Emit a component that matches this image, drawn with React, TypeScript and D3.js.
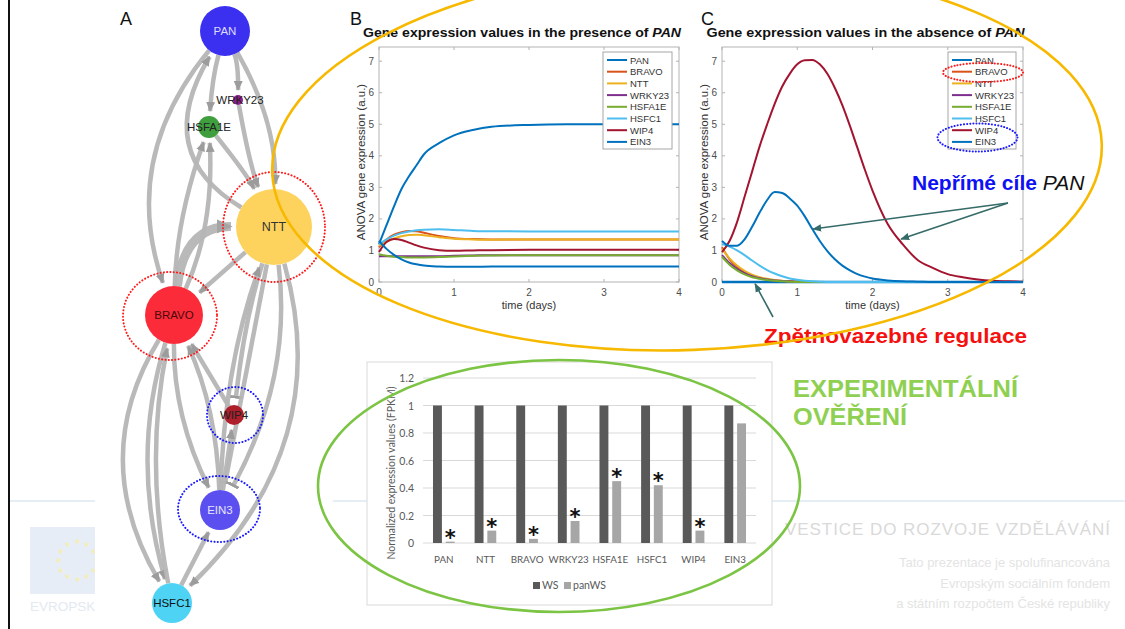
import React from 'react';
import * as d3 from 'd3';

const W = 1125;
const H = 629;

// ---------- Panels B and C: simulated expression ----------
const seriesNames = ['PAN', 'BRAVO', 'NTT', 'WRKY23', 'HSFA1E', 'HSFC1', 'WIP4', 'EIN3'];
const seriesColors = ['#0072BD', '#D95319', '#EDB120', '#7E2F8E', '#77AC30', '#4DBEEE', '#A2142F', '#0072BD'];
const axisTicksY = [0, 1, 2, 3, 4, 5, 6, 7];
const axisTicksX = [0, 1, 2, 3, 4];

const timeB = [0, 0.1, 0.2, 0.3, 0.4, 0.5, 0.6, 0.8, 1.0, 1.25, 1.5, 2, 2.5, 3, 3.5, 4];
const panB = [1.2, 1.8, 2.4, 2.95, 3.35, 3.7, 4.05, 4.4, 4.65, 4.82, 4.92, 4.98, 5.0, 5.0, 5.0, 5.0];
const bravoB = [1.1, 1.35, 1.5, 1.58, 1.62, 1.61, 1.56, 1.46, 1.39, 1.36, 1.35, 1.35, 1.35, 1.35, 1.35, 1.35];
const nttB = [1.15, 1.28, 1.38, 1.45, 1.49, 1.5, 1.48, 1.42, 1.37, 1.35, 1.34, 1.35, 1.35, 1.35, 1.35, 1.35];
const wrky23B = [0.82, 0.82, 0.82, 0.82, 0.82, 0.82, 0.82, 0.82, 0.83, 0.84, 0.85, 0.85, 0.85, 0.85, 0.85, 0.85];
const hsfa1eB = [0.88, 0.83, 0.8, 0.79, 0.78, 0.78, 0.78, 0.79, 0.81, 0.83, 0.84, 0.85, 0.85, 0.85, 0.85, 0.85];
const hsfc1B = [1.2, 1.35, 1.47, 1.55, 1.6, 1.64, 1.66, 1.67, 1.65, 1.62, 1.61, 1.6, 1.6, 1.6, 1.6, 1.6];
const wip4B = [0.95, 1.27, 1.36, 1.33, 1.25, 1.16, 1.09, 1.01, 0.99, 1.0, 1.01, 1.02, 1.02, 1.02, 1.02, 1.02];
const ein3B = [1.3, 1.05, 0.86, 0.72, 0.62, 0.56, 0.52, 0.49, 0.48, 0.48, 0.49, 0.49, 0.49, 0.49, 0.49, 0.49];

const timeC = [0, 0.1, 0.2, 0.3, 0.4, 0.5, 0.6, 0.7, 0.8, 0.9, 1.0, 1.1, 1.2, 1.3, 1.4, 1.5, 1.6, 1.7, 1.8, 1.9, 2.0,
  2.2, 2.4, 2.6, 2.8, 3.0, 3.2, 3.4, 3.6, 3.8, 4.0];
const panC = [0, 0, 0, 0, 0, 0, 0, 0, 0, 0, 0, 0, 0, 0, 0, 0, 0, 0, 0, 0, 0, 0, 0, 0, 0, 0, 0, 0, 0, 0, 0];
const bravoC = [1.1, 0.72, 0.48, 0.31, 0.2, 0.13, 0.08, 0.05, 0.03, 0.02, 0.01, 0, 0, 0, 0, 0, 0, 0, 0, 0, 0, 0, 0, 0, 0, 0, 0, 0, 0, 0, 0];
const nttC = [1.05, 0.75, 0.52, 0.35, 0.23, 0.15, 0.1, 0.06, 0.04, 0.02, 0.01, 0, 0, 0, 0, 0, 0, 0, 0, 0, 0, 0, 0, 0, 0, 0, 0, 0, 0, 0, 0];
const wrky23C = [0.85, 0.6, 0.42, 0.28, 0.18, 0.12, 0.08, 0.05, 0.03, 0.02, 0.01, 0, 0, 0, 0, 0, 0, 0, 0, 0, 0, 0, 0, 0, 0, 0, 0, 0, 0, 0, 0];
const hsfa1eC = [0.8, 0.55, 0.37, 0.24, 0.15, 0.1, 0.06, 0.04, 0.02, 0.01, 0, 0, 0, 0, 0, 0, 0, 0, 0, 0, 0, 0, 0, 0, 0, 0, 0, 0, 0, 0, 0];
const hsfc1C = [1.2, 1.12, 1.0, 0.85, 0.68, 0.52, 0.38, 0.27, 0.18, 0.11, 0.07, 0.04, 0.02, 0.01, 0, 0, 0, 0, 0, 0, 0, 0, 0, 0, 0, 0, 0, 0, 0, 0, 0];
const wip4C = [0.95, 1.3, 1.9, 2.7, 3.5, 4.3, 5.0, 5.65, 6.2, 6.6, 6.9, 7.03, 7.04, 6.9, 6.6, 6.15, 5.6, 4.95, 4.25, 3.55, 2.9,
  1.85, 1.2, 0.7, 0.45, 0.25, 0.15, 0.08, 0.04, 0.02, 0.01];
const ein3C = [1.3, 1.15, 1.15, 1.35, 1.75, 2.2, 2.6, 2.85, 2.82, 2.65, 2.42, 2.08, 1.68, 1.3, 0.98, 0.72, 0.52, 0.37, 0.25, 0.17, 0.11,
  0.05, 0.02, 0.01, 0, 0, 0, 0, 0, 0, 0];

const dataB = [panB, bravoB, nttB, wrky23B, hsfa1eB, hsfc1B, wip4B, ein3B];
const dataC = [panC, bravoC, nttC, wrky23C, hsfa1eC, hsfc1C, wip4C, ein3C];

// ---------- Bar chart: experimental validation ----------
const barCats = ['PAN', 'NTT', 'BRAVO', 'WRKY23', 'HSFA1E', 'HSFC1', 'WIP4', 'EIN3'];
const barSeries = ['WS', 'panWS'];
const wsValues = [1, 1, 1, 1, 1, 1, 1, 1];
const panWsValues = [0.01, 0.09, 0.03, 0.16, 0.45, 0.42, 0.09, 0.87];
const significant = [true, true, true, true, true, true, true, false];
const barTicks = [0, 0.2, 0.4, 0.6, 0.8, 1, 1.2];
const barColors = ['#595959', '#a6a6a6'];

// ---------- Panel A: regulatory network ----------
const netNodes = ['PAN', 'WRKY23', 'HSFA1E', 'NTT', 'BRAVO', 'WIP4', 'EIN3', 'HSFC1'];
const netLayoutX = [225, 238, 209, 274, 174, 234, 220, 172];
const netLayoutY = [31, 100, 127, 227, 315, 415, 510, 603];
const netRadius = [25, 5, 11, 38, 29, 10, 20, 20];
const netFill = ['#3b2ff0', '#8e1d8e', '#3f9f3f', '#fdd35e', '#fb2b3a', '#ad1f2b', '#5b50ef', '#4fd3f5'];
const netText = ['#dcdcff', '#222', '#222', '#333', '#4a0a0a', '#222', '#e4e4ff', '#111'];
const netEdges: [string, string, number, string][] = [
  ['PAN', 'BRAVO', 0.28, 'arrow'],
  ['NTT', 'PAN', -0.5, 'arrow'],
  ['PAN', 'WRKY23', -0.1, 'arrow'],
  ['PAN', 'HSFA1E', 0.05, 'arrow'],
  ['PAN', 'NTT', -0.14, 'arrow'],
  ['WRKY23', 'NTT', 0.05, 'arrow'],
  ['HSFA1E', 'NTT', -0.05, 'arrow'],
  ['BRAVO', 'HSFA1E', -0.08, 'arrow'],
  ['BRAVO', 'HSFA1E', 0.12, 'arrow'],
  ['BRAVO', 'NTT', -0.45, 'thick'],
  ['NTT', 'BRAVO', 0.0, 'arrow'],
  ['NTT', 'WIP4', 0.05, 'inhibit'],
  ['NTT', 'EIN3', 0.0, 'inhibit'],
  ['NTT', 'EIN3', -0.16, 'inhibit'],
  ['EIN3', 'NTT', -0.08, 'arrow'],
  ['NTT', 'HSFC1', -0.3, 'arrow'],
  ['BRAVO', 'HSFC1', 0.3, 'arrow'],
  ['BRAVO', 'HSFC1', 0.15, 'arrow'],
  ['HSFC1', 'BRAVO', -0.1, 'arrow'],
  ['BRAVO', 'EIN3', 0.12, 'arrow'],
  ['EIN3', 'BRAVO', 0.1, 'arrow'],
  ['WIP4', 'BRAVO', 0, 'arrow'],
  ['EIN3', 'WIP4', 0, 'arrow'],
  ['HSFC1', 'EIN3', 0, 'arrow'],
];

const footerLines = ['Tato prezentace je spolufinancována', 'Evropským sociálním fondem', 'a státním rozpočtem České republiky'];

const SANS = "'Liberation Sans', Arial, Helvetica, sans-serif";
const BARFONT = "Lato, 'Open Sans', sans-serif";

const yExpr = d3.scaleLinear().domain([0, 7.45]).range([282, 47]);

function LinePanel(props: { x0: number; x1: number; time: number[]; data: number[][]; absent: boolean; legendX: number; legendW: number }) {
  const { x0, x1, time, data, absent, legendX, legendW } = props;
  const x = d3.scaleLinear().domain([0, 4]).range([x0, x1]);
  const y = yExpr;
  const line = d3.line<number>().x((_, i) => x(time[i])).y((d) => y(d)).curve(d3.curveMonotoneX);
  const top = y(7.45);
  const bottom = y(0);
  const boxColor = '#b3b3b3';
  return (
    <g fontFamily={SANS}>
      <rect x={x0} y={top} width={x1 - x0} height={bottom - top} fill="white" stroke={boxColor} strokeWidth={1} />
      {axisTicksY.map((t) => (
        <g key={'yt' + t}>
          <line x1={x0} x2={x0 + 3} y1={y(t)} y2={y(t)} stroke={boxColor} />
          <line x1={x1} x2={x1 - 3} y1={y(t)} y2={y(t)} stroke={boxColor} />
          <text x={x0 - 5} y={y(t) + 3.5} textAnchor="end" fontSize={10} fill="#4d4d4d">{t}</text>
        </g>
      ))}
      {axisTicksX.map((t) => (
        <g key={'xt' + t}>
          <line x1={x(t)} x2={x(t)} y1={bottom} y2={bottom - 3} stroke={boxColor} />
          <line x1={x(t)} x2={x(t)} y1={top} y2={top + 3} stroke={boxColor} />
          <text x={x(t)} y={bottom + 14} textAnchor="middle" fontSize={10} fill="#4d4d4d">{t}</text>
        </g>
      ))}
      <text x={(x0 + x1) / 2} y={309} textAnchor="middle" fontSize={11} fill="#333">time (days)</text>
      <text transform={`translate(${x0 - 14},${162}) rotate(-90)`} textAnchor="middle" fontSize={11.5} fill="#333">
        ANOVA gene expression (a.u.)
      </text>
      <text x={(x0 + x1) / 2 - 7} y={37} textAnchor="middle" fontSize={12.5} fontWeight="bold" fill="#111"
        textLength={318} lengthAdjust="spacingAndGlyphs">
        {absent ? 'Gene expression values in the absence of ' : 'Gene expression values in the presence of '}
        <tspan fontStyle="italic">PAN</tspan>
      </text>
      {data.map((s, i) => (
        <path key={'s' + i} d={line(s) || ''} fill="none" stroke={seriesColors[i]} strokeWidth={absent && i === 0 ? 2.6 : 2} />
      ))}
      <rect x={legendX} y={52} width={legendW} height={97} fill="white" stroke="#a6a6a6" strokeWidth={1} />
      {seriesNames.map((n, i) => (
        <g key={'lg' + n}>
          <line x1={legendX + 4} x2={legendX + 24} y1={60 + i * 11.7} y2={60 + i * 11.7} stroke={seriesColors[i]} strokeWidth={2} />
          <text x={legendX + 27} y={60 + i * 11.7 + 3.5} fontSize={9.5} fill="#333">{n}</text>
        </g>
      ))}
    </g>
  );
}

function BarPanel() {
  const x0 = d3.scaleBand<string>().domain(barCats).range([423, 756]).paddingInner(0.48).paddingOuter(0.24);
  const x1 = d3.scaleBand<string>().domain(barSeries).range([0, x0.bandwidth()]).paddingInner(0.3);
  const y = d3.scaleLinear().domain([0, 1.2]).range([543, 378]);
  const vals = [wsValues, panWsValues];
  return (
    <g fontFamily={BARFONT}>
      <rect x={367} y={362} width={405} height={243} fill="white" stroke="#d9d9d9" strokeWidth={1} />
      {barTicks.map((t) => (
        <g key={'bt' + t}>
          <line x1={423} x2={756} y1={y(t)} y2={y(t)} stroke="#d9d9d9" strokeWidth={1} />
          <text x={414} y={y(t) + 4} textAnchor="end" fontSize={10.5} fill="#595959">{t}</text>
        </g>
      ))}
      <text transform={`translate(${395},${473}) rotate(-90)`} textAnchor="middle" fontSize={10.5} fill="#595959">
        Normalized expression values (FPKM)
      </text>
      {barCats.map((c, ci) => (
        <g key={'bc' + c}>
          {barSeries.map((s, si) => (
            <rect key={s} x={(x0(c) || 0) + (x1(s) || 0)} y={y(vals[si][ci])} width={x1.bandwidth()}
              height={y(0) - y(vals[si][ci])} fill={barColors[si]} />
          ))}
          {significant[ci] && (
            <text x={(x0(c) || 0) + (x1('panWS') || 0) + x1.bandwidth() / 2} y={y(panWsValues[ci]) + 3}
              textAnchor="middle" fontSize={21} fontWeight="bold" fontFamily="'DejaVu Sans', sans-serif" fill="#111">*</text>
          )}
          <text x={(x0(c) || 0) + x0.bandwidth() / 2} y={563} textAnchor="middle" fontSize={9.8} fill="#595959">{c}</text>
        </g>
      ))}
      {barSeries.map((s, si) => (
        <g key={'bl' + s}>
          <rect x={533 + si * 31} y={582} width={7} height={7} fill={barColors[si]} />
          <text x={542 + si * 31} y={589} fontSize={10.5} fill="#595959">{s}</text>
        </g>
      ))}
    </g>
  );
}

function Network() {
  const idx = (id: string) => netNodes.indexOf(id);
  const sx = d3.scaleLinear().domain([0, 1]).range([0, 1]);
  const sy = d3.scaleLinear().domain([0, 1]).range([0, 1]);
  const nodes = netNodes.map((id, i) => ({ id, x: sx(netLayoutX[i]), y: sy(netLayoutY[i]), r: netRadius[i] }));
  return (
    <g>
      {netEdges.map((e, k) => {
        const s = nodes[idx(e[0])];
        const t = nodes[idx(e[1])];
        const dx = t.x - s.x, dy = t.y - s.y;
        const len = Math.hypot(dx, dy);
        const cx = (s.x + t.x) / 2 + e[2] * len * (-dy / len);
        const cy = (s.y + t.y) / 2 + e[2] * len * (dx / len);
        const u1 = Math.hypot(cx - s.x, cy - s.y);
        const u2 = Math.hypot(cx - t.x, cy - t.y);
        const sxp = s.x + (s.r * (cx - s.x)) / u1;
        const syp = s.y + (s.r * (cy - s.y)) / u1;
        const gap = t.r + (e[3] === 'inhibit' ? 8 : 5);
        const txp = t.x + (gap * (cx - t.x)) / u2;
        const typ = t.y + (gap * (cy - t.y)) / u2;
        const marker = e[3] === 'inhibit' ? 'url(#inh)' : e[3] === 'thick' ? 'url(#arrThick)' : 'url(#arr)';
        return (
          <path key={'e' + k} d={`M${sxp},${syp} Q${cx},${cy} ${txp},${typ}`} fill="none" stroke="#b5b5b5"
            strokeWidth={e[3] === 'thick' ? 9 : 4.5} strokeOpacity={0.95} markerEnd={marker} />
        );
      })}
      {nodes.map((n, i) => (
        <g key={'n' + n.id}>
          <circle cx={n.x} cy={n.y} r={n.r} fill={netFill[i]} />
          <text x={n.x + (n.id === 'WRKY23' ? 2 : 0)} y={n.y + 4} textAnchor="middle" fontFamily={SANS}
            fontSize={n.id === 'NTT' ? 12.5 : 11.5} fill={netText[i]}>{n.id}</text>
        </g>
      ))}
      <ellipse cx={274} cy={227} rx={51} ry={55} fill="none" stroke="#ff1a1a" strokeWidth={2} strokeDasharray="0.1 3.2" strokeLinecap="round" />
      <ellipse cx={170} cy={316} rx={47} ry={44} fill="none" stroke="#ff1a1a" strokeWidth={2} strokeDasharray="0.1 3.2" strokeLinecap="round" />
      <ellipse cx={235} cy={415} rx={28} ry={28} fill="none" stroke="#1a1aff" strokeWidth={2} strokeDasharray="0.1 3.2" strokeLinecap="round" />
      <ellipse cx={219} cy={509} rx={41} ry={33} fill="none" stroke="#1a1aff" strokeWidth={2} strokeDasharray="0.1 3.2" strokeLinecap="round" />
    </g>
  );
}

export default function App() {
  const xC = d3.scaleLinear().domain([0, 4]).range([722, 1023]);
  const tail: [number, number] = [1008, 203];
  const tip1: [number, number] = [xC(1.21), yExpr(1.68)];
  const tip2: [number, number] = [xC(2.38), yExpr(1.36)];
  const tip3: [number, number] = [xC(0.44), yExpr(-0.06)];
  const flagStars = d3.range(12).map((i) => [77 + 19 * Math.cos((i * Math.PI) / 6), 560 + 19 * Math.sin((i * Math.PI) / 6)]);
  return (
    <svg width={W} height={H} viewBox={`0 0 ${W} ${H}`} style={{ position: 'absolute', left: 0, top: 0, background: 'white' }}>
      <defs>
        <marker id="arr" viewBox="0 -5 10 10" refX={9} refY={0} markerWidth={10} markerHeight={10} markerUnits="userSpaceOnUse" orient="auto">
          <path d="M0,-4.5L10,0L0,4.5Z" fill="#9c9c9c" />
        </marker>
        <marker id="arrThick" viewBox="0 -5 10 10" refX={9} refY={0} markerWidth={16} markerHeight={16} markerUnits="userSpaceOnUse" orient="auto">
          <path d="M0,-4.5L10,0L0,4.5Z" fill="#a5a5a5" />
        </marker>
        <marker id="inh" viewBox="0 -6 3 12" refX={1.5} refY={0} markerWidth={3} markerHeight={12} markerUnits="userSpaceOnUse" orient="auto">
          <rect x={0} y={-6} width={3} height={12} fill="#9c9c9c" />
        </marker>
        <marker id="teal" viewBox="0 -5 10 10" refX={9} refY={0} markerWidth={9} markerHeight={9} markerUnits="userSpaceOnUse" orient="auto">
          <path d="M0,-4L10,0L0,4Z" fill="#356b69" />
        </marker>
        <clipPath id="flagClip">
          <rect x={10} y={480} width={85} height={149} />
        </clipPath>
      </defs>
      <rect x={0} y={0} width={W} height={H} fill="white" />

      <line x1={10} x2={95} y1={501} y2={501} stroke="#dde8f2" strokeWidth={1.5} />
      <line x1={333} x2={W} y1={501} y2={501} stroke="#dde8f2" strokeWidth={1.5} />
      <g clipPath="url(#flagClip)">
        <rect x={30} y={527} width={95} height={67} fill="#e7edf6" />
        {flagStars.map((p, i) => (
          <text key={'fs' + i} x={p[0]} y={p[1] + 3} textAnchor="middle" fontSize={8} fill="#f3eeb5">★</text>
        ))}
        <text x={30} y={611} fontFamily={SANS} fontSize={13.5} fill="#e3e9f1">EVROPSKÁ UNIE</text>
      </g>
      <text x={785} y={535} fontFamily={SANS} fontSize={17} fill="#d9d9d9" textLength={325} lengthAdjust="spacing">
        VESTICE DO ROZVOJE VZDĚLÁVÁNÍ
      </text>
      {footerLines.map((t, i) => (
        <text key={'fl' + i} x={1110} y={567 + i * 20.5} textAnchor="end" fontFamily={SANS} fontSize={13} fill="#e4e4e4">{t}</text>
      ))}
      <line x1={9} x2={9} y1={0} y2={H} stroke="#111" strokeWidth={2} />

      <text x={120} y={25} fontFamily={SANS} fontSize={18} fill="#111">A</text>
      <text x={350} y={25} fontFamily={SANS} fontSize={18} fill="#111">B</text>
      <text x={701} y={25} fontFamily={SANS} fontSize={18} fill="#111">C</text>

      <Network />

      <LinePanel x0={379} x1={679} time={timeB} data={dataB} absent={false} legendX={603} legendW={69} />
      <LinePanel x0={722} x1={1023} time={timeC} data={dataC} absent={true} legendX={948} legendW={68} />

      <ellipse cx={983} cy={72.5} rx={40} ry={9.5} fill="none" stroke="#ff1a1a" strokeWidth={2} strokeDasharray="0.1 3" strokeLinecap="round" />
      <ellipse cx={977.5} cy={137.5} rx={40} ry={14} fill="none" stroke="#1a1aff" strokeWidth={2} strokeDasharray="0.1 3" strokeLinecap="round" />

      <line x1={tail[0]} y1={tail[1]} x2={tip1[0]} y2={tip1[1]} stroke="#356b69" strokeWidth={1.6} markerEnd="url(#teal)" />
      <line x1={tail[0]} y1={tail[1]} x2={tip2[0]} y2={tip2[1]} stroke="#356b69" strokeWidth={1.6} markerEnd="url(#teal)" />
      <line x1={773} y1={317} x2={tip3[0]} y2={tip3[1]} stroke="#356b69" strokeWidth={1.6} markerEnd="url(#teal)" />
      <text x={912} y={190} fontFamily={SANS} fontSize={21} fontWeight="bold" fill="#1010f5">
        Nepřímé cíle <tspan fontWeight="normal" fontStyle="italic" fill="#111">PAN</tspan>
      </text>
      <text x={764} y={343} fontFamily={SANS} fontSize={20.5} fontWeight="bold" fill="#f51010" textLength={263} lengthAdjust="spacingAndGlyphs">
        Zpětnovazebné regulace
      </text>

      <BarPanel />

      <text x={793} y={397} fontFamily={SANS} fontSize={24} fontWeight="bold" fill="#8fd052" textLength={225} lengthAdjust="spacingAndGlyphs">
        EXPERIMENTÁLNÍ
      </text>
      <text x={793} y={425} fontFamily={SANS} fontSize={24} fontWeight="bold" fill="#8fd052" textLength={114} lengthAdjust="spacingAndGlyphs">
        OVĚŘENÍ
      </text>

      <ellipse cx={687} cy={158} rx={415} ry={192} transform="rotate(-2 687 158)" fill="none" stroke="#f7b900" strokeWidth={2.6} />
      <ellipse cx={559} cy={486} rx={241} ry={126} fill="none" stroke="#7cc444" strokeWidth={2.6} />
    </svg>
  );
}
